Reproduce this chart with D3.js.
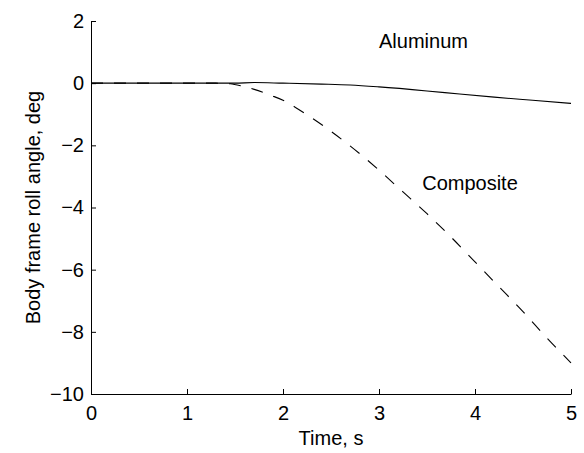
<!DOCTYPE html>
<html>
<head>
<meta charset="utf-8">
<script src="https://cdn.jsdelivr.net/npm/d3@7"></script>
<style>
  body { margin: 0; background: #fff; }
  .axis text { font-family: "Liberation Sans", Arial, sans-serif; font-size: 20px; fill: #000; }
  .axis path, .axis line { stroke: #000; stroke-width: 1; }
  .lbl { font-family: "Liberation Sans", Arial, sans-serif; font-size: 20px; fill: #000; }
</style>
</head>
<body>
<div id="chart"></div>
<script>
// time axis, s
var xTicks = [0, 1, 2, 3, 4, 5];
var yTicks = [2, 0, -2, -4, -6, -8, -10];

// aluminum body frame (solid)
var aluminumT = [0, 0.5, 1.0, 1.5, 1.7, 2.0, 2.4, 2.7, 3.0, 3.5, 3.84, 4.2, 4.6, 5.0];
var aluminumV = [0, 0, 0, 0, 0.02, 0.0, -0.03, -0.06, -0.12, -0.25, -0.35, -0.45, -0.55, -0.65];

// composite body frame (dashed)
var compositeT = [0, 0.5, 1.0, 1.3, 1.45, 1.58, 1.7, 1.88, 2.0, 2.13, 2.31, 2.5, 2.8, 3.0, 3.25, 3.5, 3.75, 4.0, 4.25, 4.5, 4.75, 5.0];
var compositeV = [0, 0, 0, 0, -0.02, -0.10, -0.2, -0.40, -0.55, -0.78, -1.14, -1.55, -2.27, -2.8, -3.5, -4.2, -4.95, -5.75, -6.55, -7.35, -8.2, -9.0];

var width = 584, height = 453;
var margin = {left: 91, right: 13, top: 21, bottom: 59};

var svg = d3.select("#chart").append("svg")
  .attr("width", width)
  .attr("height", height);

var x = d3.scaleLinear().domain([0, 5]).range([margin.left, width - margin.right]);
var y = d3.scaleLinear().domain([-10, 2]).range([height - margin.bottom, margin.top]);

var xAxis = d3.axisBottom(x).tickValues(xTicks).tickSizeInner(-5).tickSizeOuter(0).tickPadding(12)
  .tickFormat(d3.format("d"));
var yAxis = d3.axisLeft(y).tickValues(yTicks).tickSizeInner(-5).tickSizeOuter(0).tickPadding(7)
  .tickFormat(function(d) { return d < 0 ? "\u2212" + Math.abs(d) : d; });

svg.append("g")
  .attr("class", "x-axis axis")
  .attr("transform", "translate(0," + (height - margin.bottom) + ")")
  .call(xAxis);

svg.append("g")
  .attr("class", "y-axis axis")
  .attr("transform", "translate(" + margin.left + ",0)")
  .call(yAxis);

svg.selectAll(".axis .domain").attr("stroke", "#000");

var line = d3.line()
  .x(function(d) { return x(d[0]); })
  .y(function(d) { return y(d[1]); })
  .curve(d3.curveMonotoneX);

svg.append("path")
  .datum(d3.zip(aluminumT, aluminumV))
  .attr("fill", "none")
  .attr("stroke", "#000")
  .attr("stroke-width", 1.1)
  .attr("d", line);

svg.append("path")
  .datum(d3.zip(compositeT, compositeV))
  .attr("fill", "none")
  .attr("stroke", "#000")
  .attr("stroke-width", 1.1)
  .attr("stroke-dasharray", "12,11")
  .attr("d", line);

// annotations
svg.append("text").attr("class", "lbl")
  .attr("x", x(3.0)).attr("y", y(1.35))
  .attr("dy", "0.35em")
  .text("Aluminum");

svg.append("text").attr("class", "lbl")
  .attr("x", x(3.45)).attr("y", y(-3.2))
  .attr("dy", "0.35em")
  .text("Composite");

// axis titles
svg.append("text").attr("class", "lbl")
  .attr("x", x(2.5)).attr("y", 438)
  .attr("dy", "0.35em")
  .attr("text-anchor", "middle")
  .text("Time, s");

svg.append("text").attr("class", "lbl")
  .attr("transform", "translate(33," + y(-4) + ") rotate(-90)")
  .attr("dy", "0.35em")
  .attr("text-anchor", "middle")
  .text("Body frame roll angle, deg");
</script>
</body>
</html>
